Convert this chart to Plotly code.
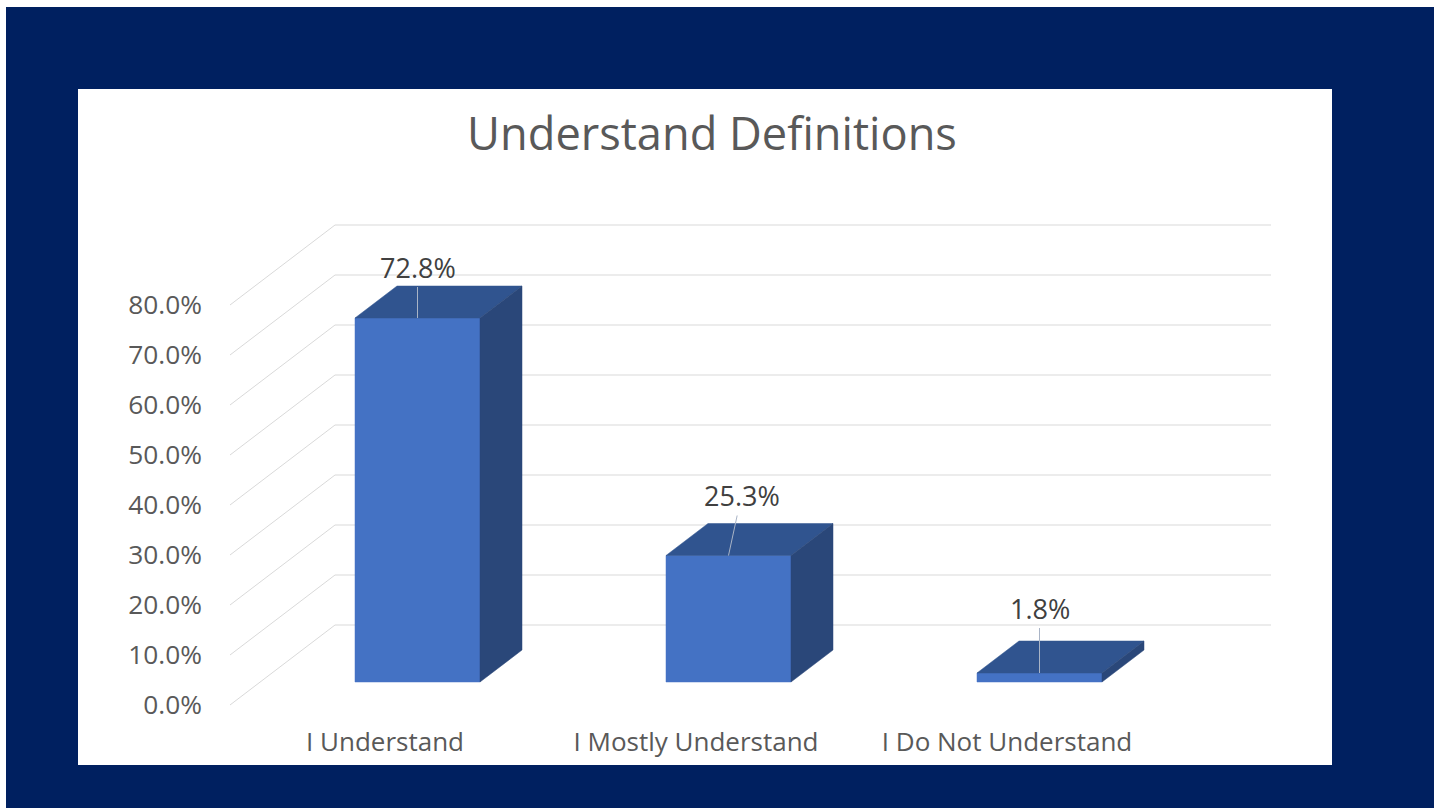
import plotly.graph_objects as go

categories = ["I Understand", "I Mostly Understand", "I Do Not Understand"]
values = [72.8, 25.3, 1.8]
value_labels = ["72.8%", "25.3%", "1.8%"]
axis_ticks = [0, 10, 20, 30, 40, 50, 60, 70, 80]
axis_tick_labels = ["0.0%", "10.0%", "20.0%", "30.0%", "40.0%", "50.0%", "60.0%", "70.0%", "80.0%"]

label_dx = [0, 13, 0]
label_dy = [-51, -60, -65]

# Pseudo-3D geometry, in axis units (1 category step = 311 px, 1% = 5 px)
PX_X = 311.0
PX_Y = 5.0
FIG_W, FIG_H = 1428, 801
L, R, T, B = 72, 102, 82, 43
X0_PX, Y0_PX = 385.0, 705.0     # page pixel of category 0 and of 0%
PLOT_LEFT, PLOT_RIGHT, PLOT_TOP, PLOT_BOTTOM = 78, 1332, 89, 765

x_range = [(PLOT_LEFT - X0_PX) / PX_X, (PLOT_RIGHT - X0_PX) / PX_X]
y_range = [(Y0_PX - PLOT_BOTTOM) / PX_Y, (Y0_PX - PLOT_TOP) / PX_Y]

wall_start = (230 - X0_PX) / PX_X
wall_dx, wall_dy = 105 / PX_X, 80 / PX_Y
wall_end = (1271 - X0_PX) / PX_X

bar_shift_x, bar_shift_y = 32.5 / PX_X, 23 / PX_Y
bar_w = 125 / PX_X
depth_x, depth_y = 42 / PX_X, 32 / PX_Y

FRONT, TOP_FACE, SIDE = "#4472C4", "#30548F", "#2A4779"
GRID = "#D9D9D9"
NAVY = "#002060"

fig = go.Figure()

for t in axis_ticks:
    fig.add_trace(go.Scatter(
        x=[wall_start, wall_start + wall_dx, wall_end],
        y=[t, t + wall_dy, t + wall_dy],
        mode="lines", line=dict(color=GRID, width=1),
        hoverinfo="skip", showlegend=False))


def face(xs, ys, color):
    fig.add_trace(go.Scatter(
        x=xs, y=ys, mode="lines", fill="toself", fillcolor=color,
        line=dict(color=color, width=0.5), hoverinfo="skip", showlegend=False))


annotations = []
for i, v in enumerate(values):
    xl = i + bar_shift_x - bar_w / 2
    xr = i + bar_shift_x + bar_w / 2
    yb = bar_shift_y
    yt = bar_shift_y + v
    face([xl, xr, xr, xl, xl], [yb, yb, yt, yt, yb], FRONT)
    face([xl, xr, xr + depth_x, xl + depth_x, xl],
         [yt, yt, yt + depth_y, yt + depth_y, yt], TOP_FACE)
    face([xr, xr + depth_x, xr + depth_x, xr, xr],
         [yb, yb + depth_y, yt + depth_y, yt, yb], SIDE)
    annotations.append(dict(
        x=i + bar_shift_x, y=yt, xref="x", yref="y",
        text=value_labels[i], showarrow=True, arrowhead=0, arrowwidth=1,
        arrowcolor="#A9B4C6", ax=label_dx[i], ay=label_dy[i],
        font=dict(family="Open Sans", size=27, color="#404040")))

fig.update_layout(
    width=FIG_W, height=FIG_H,
    margin=dict(l=L, r=R, t=T, b=B, pad=0),
    paper_bgcolor=NAVY, plot_bgcolor="#FFFFFF",
    showlegend=False, hovermode=False,
    annotations=annotations,
    title=dict(text="Understand Definitions", xref="paper", yref="container",
               x=(712 - PLOT_LEFT) / (PLOT_RIGHT - PLOT_LEFT), xanchor="center",
               y=1 - (134 - 7) / FIG_H, yanchor="middle",
               font=dict(family="Open Sans", size=45.2, color="#595959")),
    xaxis=dict(range=x_range, tickmode="array", tickvals=list(range(len(categories))),
               ticktext=categories, showgrid=False, zeroline=False, showline=False,
               ticks="", anchor="free",
               position=(PLOT_BOTTOM - 724) / (PLOT_BOTTOM - PLOT_TOP),
               tickfont=dict(family="Open Sans", size=26, color="#595959")),
    yaxis=dict(range=y_range, tickmode="array", tickvals=axis_ticks,
               ticktext=axis_tick_labels, showgrid=False, zeroline=False,
               showline=False, ticks="", anchor="free",
               position=(202 - PLOT_LEFT) / (PLOT_RIGHT - PLOT_LEFT),
               tickfont=dict(family="Open Sans", size=26.3, color="#595959")),
)

fig.write_html(
    "out.html",
    config={"displayModeBar": False},
    post_script="document.body.style.margin='7px 0 0 6px';document.body.style.overflow='hidden';",
)
